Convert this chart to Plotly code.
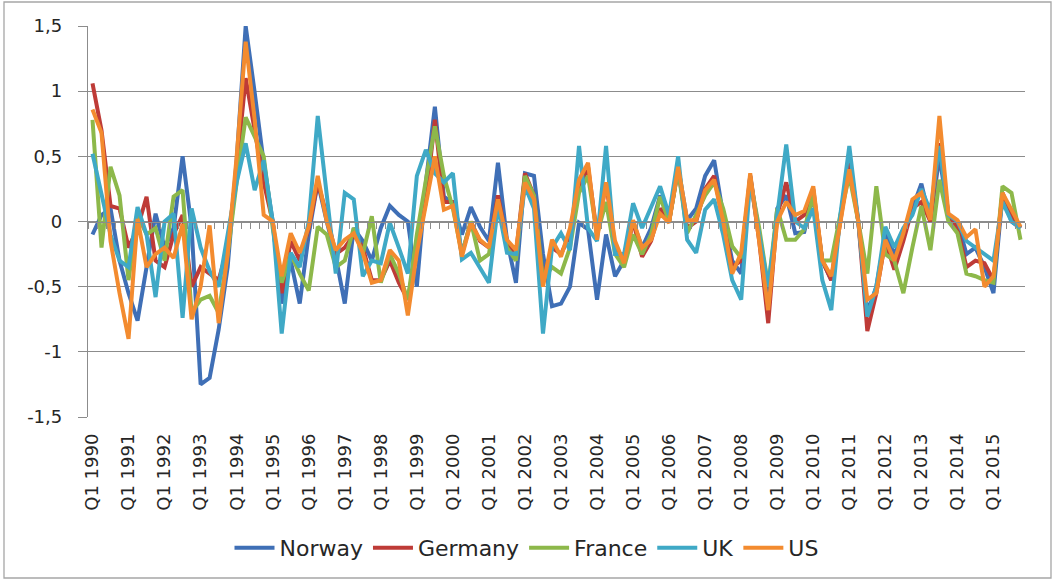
import plotly.graph_objects as go

YEARS = list(range(1990, 2016))
QUARTERS = [f"Q{q} {y}" for y in YEARS for q in range(1, 5)]
TICK_LABELS = [f"Q1 {y}" for y in YEARS]

NORWAY = [-0.1, 0.05, 0.1, -0.3, -0.55, -0.76, -0.35, 0.06, -0.2, -0.05,
          0.5, -0.05, -1.25, -1.2, -0.83, -0.35, 0.47, 1.5, 0.99, 0.45,
          0.0, -0.63, -0.3, -0.63, -0.1, 0.3, 0.0, -0.27, -0.63, -0.05,
          -0.15, -0.3, -0.05, 0.12, 0.05, 0.0, -0.5, 0.3, 0.88, 0.19,
          0.14, -0.1, 0.11, -0.04, -0.15, 0.45, -0.14, -0.47, 0.37, 0.35,
          -0.25, -0.65, -0.63, -0.5, -0.01, -0.06, -0.6, -0.1, -0.42, -0.3,
          0.0, -0.2, -0.05, 0.2, 0.0, 0.42, 0.01, 0.1, 0.35, 0.47,
          0.05, -0.3, -0.4, 0.35, -0.1, -0.6, 0.1, 0.2, -0.09, -0.08,
          0.2, -0.3, -0.45, 0.05, 0.5, 0.0, -0.7, -0.5, -0.1, -0.25,
          -0.1, 0.1, 0.29, 0.0, 0.5, 0.05, 0.0, -0.25, -0.2, -0.35,
          -0.55, 0.2, 0.0, -0.05]

GERMANY = [1.06, 0.7, 0.12, 0.1, -0.2, -0.05, 0.19, -0.3, -0.35, -0.1,
           0.05, -0.5, -0.35, -0.4, -0.45, -0.2, 0.4, 1.1, 0.7, 0.3,
           0.0, -0.55, -0.15, -0.3, -0.05, 0.3, 0.05, -0.25, -0.2, -0.1,
           -0.2, -0.45, -0.45, -0.3, -0.47, -0.6, -0.2, 0.15, 0.78, 0.15,
           0.15, -0.25, 0.0, -0.15, -0.2, 0.2, -0.15, -0.25, 0.37, 0.2,
           -0.45, -0.2, -0.25, -0.1, 0.25, 0.42, -0.1, 0.3, -0.2, -0.3,
           0.0, -0.27, -0.15, 0.1, 0.0, 0.4, -0.05, 0.0, 0.25, 0.35,
           0.0, -0.35, -0.3, 0.35, -0.15, -0.78, 0.05, 0.3, 0.0, 0.05,
           0.25, -0.3, -0.45, 0.0, 0.45, 0.0, -0.84, -0.55, -0.15, -0.37,
           -0.15, 0.1, 0.15, 0.0, 0.6, 0.05, -0.05, -0.35, -0.3, -0.32,
           -0.45, 0.22, 0.05, -0.05]

FRANCE = [0.78, -0.2, 0.42, 0.2, -0.45, 0.05, -0.1, -0.05, -0.3, 0.19,
          0.24, -0.7, -0.6, -0.57, -0.7, -0.25, 0.3, 0.8, 0.65, 0.5,
          -0.05, -0.47, -0.25, -0.4, -0.53, -0.04, -0.1, -0.35, -0.3, -0.05,
          -0.25, 0.04, -0.47, -0.25, -0.4, -0.6, -0.1, 0.3, 0.73, 0.35,
          0.1, -0.25, 0.0, -0.3, -0.25, 0.15, -0.2, -0.3, 0.35, 0.2,
          -0.45, -0.35, -0.4, -0.2, 0.22, 0.35, -0.1, 0.15, -0.25, -0.35,
          -0.1, -0.25, -0.1, 0.19, 0.0, 0.4, -0.09, 0.05, 0.2, 0.3,
          0.1, -0.19, -0.28, 0.32, -0.05, -0.5, 0.1, -0.14, -0.14, -0.06,
          0.2, -0.3, -0.3, 0.05, 0.35, 0.0, -0.4, 0.27, -0.25, -0.3,
          -0.55, -0.2, 0.12, -0.22, 0.32, 0.0, -0.09, -0.4, -0.42, -0.45,
          -0.47, 0.27, 0.22, -0.14]

UK = [0.52, 0.22, -0.1, -0.3, -0.35, 0.11, -0.1, -0.58, 0.0, 0.06,
      -0.74, 0.1, -0.2, -0.38, -0.5, -0.1, 0.3, 0.6, 0.24, 0.47,
      0.0, -0.86, -0.24, -0.35, 0.0, 0.81, 0.22, -0.4, 0.22, 0.17,
      -0.42, -0.3, -0.32, -0.01, -0.2, -0.4, 0.35, 0.55, 0.37, 0.3,
      0.37, -0.29, -0.24, -0.35, -0.47, 0.12, -0.24, -0.25, 0.27, 0.1,
      -0.86, -0.2, -0.09, -0.22, 0.58, -0.05, -0.15, 0.58, -0.25, -0.25,
      0.14, -0.05, 0.12, 0.27, 0.05, 0.5, -0.14, -0.24, 0.09, 0.17,
      -0.1, -0.45, -0.6, 0.32, -0.1, -0.5, 0.05, 0.59, 0.0, -0.05,
      0.1, -0.45, -0.68, 0.05, 0.58, 0.0, -0.73, -0.5, -0.04, -0.2,
      -0.05, 0.05, 0.25, 0.08, 0.58, 0.05, 0.0, -0.15, -0.2, -0.25,
      -0.3, 0.15, 0.0, -0.05]

US = [0.86, 0.68, -0.15, -0.55, -0.9, 0.02, -0.35, -0.25, -0.2, -0.28,
      -0.02, -0.75, -0.5, -0.03, -0.78, -0.25, 0.5, 1.38, 0.78, 0.05,
      0.0, -0.42, -0.09, -0.24, -0.04, 0.35, 0.0, -0.22, -0.14, -0.09,
      -0.24, -0.47, -0.45, -0.22, -0.3, -0.72, -0.24, 0.12, 0.5, 0.09,
      0.12, -0.27, -0.01, -0.14, -0.2, 0.17, -0.14, -0.22, 0.3, 0.17,
      -0.5, -0.14, -0.27, -0.05, 0.32, 0.45, -0.14, 0.3, -0.15, -0.32,
      0.01, -0.2, -0.14, 0.06, -0.01, 0.42, 0.01, 0.01, 0.24, 0.32,
      0.0, -0.4, -0.24, 0.37, -0.15, -0.68, 0.0, 0.15, 0.05, 0.08,
      0.27, -0.3, -0.42, 0.0, 0.4, 0.0, -0.6, -0.55, -0.14, -0.3,
      -0.09, 0.17, 0.22, 0.01, 0.81, 0.06, 0.01, -0.12, -0.06, -0.5,
      -0.42, 0.22, 0.09, -0.04]

SERIES = [("Norway", NORWAY, "#3F6FB6"),
          ("Germany", GERMANY, "#BE3B37"),
          ("France", FRANCE, "#8DB84A"),
          ("UK", UK, "#3FA9C6"),
          ("US", US, "#F38B2F")]

Y_TICKS = [-1.5, -1, -0.5, 0, 0.5, 1, 1.5]
Y_TICK_TEXT = ["-1,5", "-1", "-0,5", "0", "0,5", "1", "1,5"]

FONT = "DejaVu Sans"
GRID = "#8C8C8C"
TEXT = "#262626"

fig = go.Figure()
for name, vals, color in SERIES:
    fig.add_trace(go.Scatter(x=QUARTERS, y=vals, name=name, mode="lines",
                             line=dict(color=color, width=4)))

# helper trace (invisible) so that the category axis at y = 0 is drawn with its tick marks
fig.add_trace(go.Scatter(x=QUARTERS, y=US, xaxis="x2", mode="lines",
                         line=dict(width=0, color="rgba(0,0,0,0)"),
                         showlegend=False, hoverinfo="skip"))

W, H = 1053, 581
L, R, T, B = 88, 28, 26, 164
pw, ph = W - L - R, H - T - B

fig.update_layout(
    width=W, height=H,
    margin=dict(l=L, r=R, t=T, b=B, autoexpand=False),
    paper_bgcolor="white", plot_bgcolor="white",
    font=dict(family=FONT, color=TEXT, size=18),
    showlegend=True,
    legend=dict(orientation="h", xref="container", yref="container",
                x=0.5, xanchor="center", y=0.057, yanchor="middle",
                font=dict(family=FONT, size=22, color=TEXT),
                itemwidth=40, tracegroupgap=0),
    xaxis=dict(type="category", categoryorder="array", categoryarray=QUARTERS,
               range=[-0.5, len(QUARTERS) - 0.5], automargin=False,
               tickmode="array", tickvals=TICK_LABELS, ticktext=TICK_LABELS,
               tickangle=-90, showgrid=False, zeroline=False, showline=False,
               ticks="", ticklabelstandoff=12,
               tickfont=dict(family=FONT, size=18, color=TEXT)),
    xaxis2=dict(type="category", categoryorder="array", categoryarray=QUARTERS,
                overlaying="x", anchor="free", position=0.5,
                range=[-0.5, len(QUARTERS) - 0.5], automargin=False,
                tickmode="linear", dtick=1, tickson="boundaries",
                ticks="outside", ticklen=6, tickwidth=1.3, tickcolor=GRID,
                showline=True, linecolor=GRID, linewidth=1.3,
                showticklabels=False, showgrid=False, zeroline=False),
    yaxis=dict(range=[-1.5, 1.5], tickmode="array", tickvals=Y_TICKS,
               ticktext=Y_TICK_TEXT, showgrid=True, gridcolor=GRID, gridwidth=1.3,
               zeroline=False, showline=True, linecolor=GRID, linewidth=1.3,
               ticks="outside", ticklen=9, tickwidth=1.3, tickcolor=GRID,
               ticklabelstandoff=12, automargin=False,
               tickfont=dict(family=FONT, size=18, color=TEXT)),
)

# outer chart border
fig.add_shape(type="rect", xref="paper", yref="paper",
              x0=(4 - L) / pw, x1=(1051 - L) / pw,
              y0=(T + ph - 578) / ph, y1=(T + ph - 2) / ph,
              line=dict(color="#A6A6A6", width=1.3), fillcolor="rgba(0,0,0,0)")

fig.write_html("out.html",
               config={"displayModeBar": False},
               post_script="document.body.style.margin='0px';"
                           "document.body.style.overflow='hidden';")
